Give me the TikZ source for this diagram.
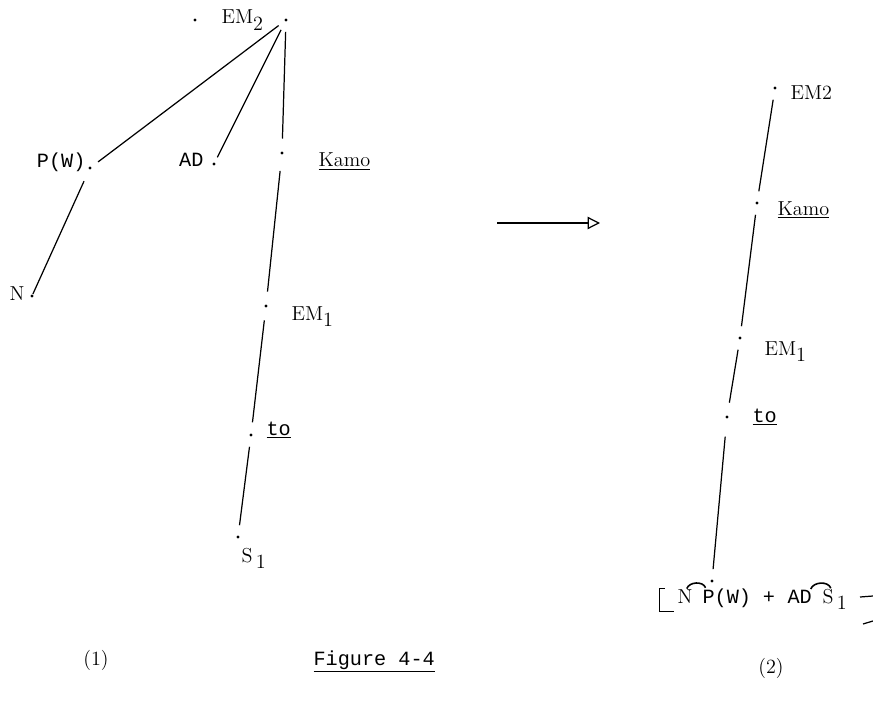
\documentclass[tikz,border=0pt]{standalone}
\usepackage{fontspec}
\newfontfamily\typefont{Liberation Mono}
\usetikzlibrary{arrows.meta}
\newcommand{\lowidx}[1]{\raisebox{-0.75ex}{#1}}

\begin{document}
\begin{tikzpicture}[x=0.02cm, y=-0.02cm, line width=0.7pt,
  pt/.style={circle, fill=black, inner sep=0pt, minimum size=1.8pt},
  rm/.style={font=\fontsize{11.5}{13}\selectfont, inner sep=0pt},
  tt/.style={font=\typefont\fontsize{11.5}{13}\selectfont, inner sep=0pt},
  br/.style={draw, shorten <=5.5pt, shorten >=5.5pt},
  tie/.style={line width=0.9pt, out=70, in=110, looseness=1},
  arr/.style={draw, -{Triangle[open, length=7pt, width=7pt]}}
]
  \useasboundingbox (0,0) rectangle (873,706);
  % tree (1)
  \node[pt] (root) at (286,20) {};
  \node[pt] (em2d) at (195,20) {};
  \node[rm, anchor=base west] (em2t) at (221,24) {EM\lowidx{2}};
  \node[pt] (pw) at (90,168) {};
  \node[tt, anchor=base east] (pwt) at (86,168) {P(W)};
  \node[pt] (ad) at (214,164) {};
  \node[tt, anchor=base east] (adt) at (204,167) {AD};
  \node[pt] (kamoL) at (282,153) {};
  \node[rm, anchor=base west] (kamoLt) at (318,167) {\underline{Kamo}};
  \node[pt] (nL) at (32,296) {};
  \node[rm, anchor=base east] (nLt) at (25,300) {N};
  \node[pt] (em1L) at (266,306) {};
  \node[rm, anchor=base west] (em1Lt) at (291,320) {EM\lowidx{1}};
  \node[pt] (toL) at (251,435) {};
  \node[tt, anchor=base west] (toLt) at (266,435) {\underline{to}};
  \node[pt] (s1L) at (238,537) {};
  \node[rm, anchor=base west] (s1Lt) at (241,562) {S\,\lowidx{1}};
  \draw[br, shorten <=4pt, shorten >=4.5pt] (root) -- (pw);
  \draw[br, shorten <=5pt, shorten >=3pt] (root) -- (ad);
  \draw[br, shorten >=7pt] (root) -- (kamoL);
  \draw[br, shorten <=9pt, shorten >=7pt] (kamoL) -- (em1L);
  \draw[br, shorten <=7pt, shorten >=6pt] (em1L) -- (toL);
  \draw[br] (toL) -- (s1L);
  \draw[br, shorten <=7pt, shorten >=0pt] (pw) -- (nL);
  % arrow
  \coordinate (arrS) at (497,223);
  \coordinate (arrE) at (600,223);
  \draw[arr] (arrS) -- (arrE);
  % chain (2)
  \node[pt] (em2R) at (775,88) {};
  \node[rm, anchor=base west] (em2Rt) at (790,100) {EM2};
  \node[pt] (kamoR) at (757,203) {};
  \node[rm, anchor=base west] (kamoRt) at (777,215) {\underline{Kamo}};
  \node[pt] (em1R) at (740,338) {};
  \node[rm, anchor=base west] (em1Rt) at (764,355) {EM\lowidx{1}};
  \node[pt] (toR) at (727,417) {};
  \node[tt, anchor=base west] (toRt) at (752,422) {\underline{to}};
  \node[pt] (botR) at (712,581) {};
  \draw[br] (em2R) -- (kamoR);
  \draw[br] (kamoR) -- (em1R);
  \draw[br, shorten >=7pt] (em1R) -- (toR);
  \draw[br, shorten <=10pt] (toR) -- (botR);
  % bottom string
  \node[rm, anchor=base west] (n2) at (677,603) {N};
  \node[tt, anchor=base west] (pw2) at (702,603) {P(W)};
  \node[tt, anchor=base] (plus2) at (769,603) {+};
  \node[tt, anchor=base west] (ad2) at (787,603) {AD};
  \node[rm, anchor=base west] (s2) at (822,603) {S\,\lowidx{1}};
  \draw[tie] ([xshift=1pt]n2.north) to ([xshift=2pt]pw2.north west);
  \draw[tie] ([xshift=-1pt]ad2.north east) to ([xshift=5pt]s2.north west);
  \draw ([xshift=-10pt]n2.north west) -- ++(0,23) -- ++(15,0);
  \draw ([xshift=-10pt]n2.north west) -- ++(6,0);
  \draw (860,597) -- (873,596);
  \draw (863,624) -- (873,621);
  % captions
  \node[rm, anchor=base] (cap1) at (96,665) {(1)};
  \node[tt, anchor=base west] (fig) at (313,665) {\underline{Figure 4-4}};
  \node[rm, anchor=base] (cap2) at (771,673) {(2)};
\end{tikzpicture}
\end{document}
